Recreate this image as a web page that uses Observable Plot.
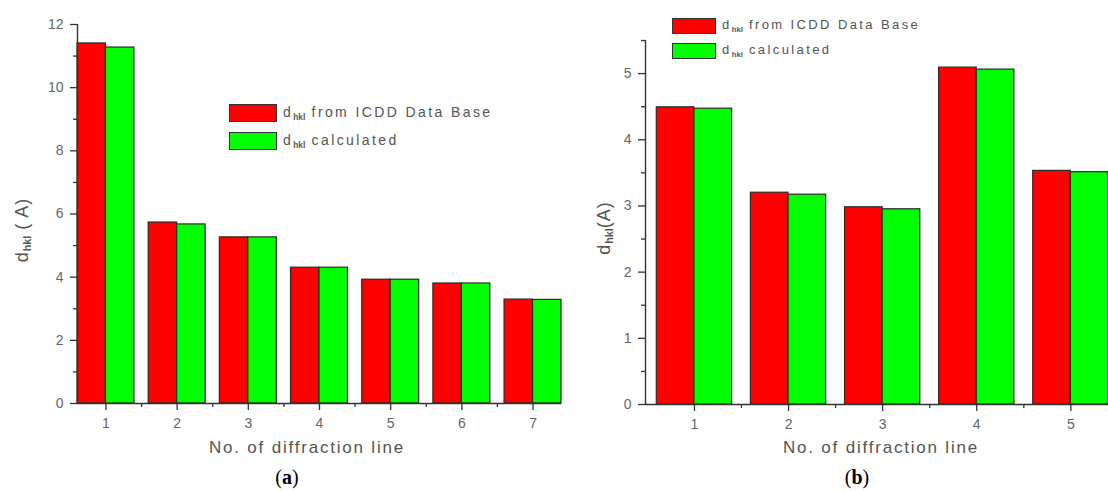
<!DOCTYPE html>
<html><head><meta charset="utf-8">
<script src="https://cdn.jsdelivr.net/npm/d3@7"></script>
<script src="https://cdn.jsdelivr.net/npm/@observablehq/plot@0.6"></script>
<style>
body{margin:0;background:#fff;font-family:"Liberation Sans",Arial,sans-serif;}
#root{position:relative;width:1108px;height:491px;overflow:hidden;background:#fff;}
#root svg{position:absolute;top:0;}
.t{position:absolute;color:#555;white-space:nowrap;line-height:1;}
.c{transform:translate(-50%,-50%);}
.ytitle{font-size:18px;letter-spacing:1px;transform:translate(-50%,-50%) rotate(-90deg);}
.xtitle{font-size:17px;letter-spacing:1.8px;}
.cap{font-family:"Liberation Serif","Times New Roman",serif;font-size:20px;color:#000;}
.sub{font-size:0.6em;vertical-align:-0.35em;letter-spacing:0;font-weight:bold;}
.box{position:absolute;border:1.5px solid #333;box-sizing:border-box;}
.leg{letter-spacing:2.4px;transform:translateY(-50%);}
</style></head>
<body><div id="root"></div>
<script>
// Panel (a)
const linesA = [1, 2, 3, 4, 5, 6, 7];
const icddA  = [11.40, 5.73, 5.26, 4.30, 3.92, 3.80, 3.29];
const calcA  = [11.27, 5.67, 5.26, 4.30, 3.92, 3.80, 3.28];
const yTicksA = [0, 2, 4, 6, 8, 10, 12];
const yMinorA = [1, 3, 5, 7, 9, 11];
const xMinorA = [1.5, 2.5, 3.5, 4.5, 5.5, 6.5];

// Panel (b)
const linesB = [1, 2, 3, 4, 5];
const icddB  = [4.49, 3.20, 2.98, 5.09, 3.53];
const calcB  = [4.47, 3.17, 2.95, 5.06, 3.51];
const yTicksB = [0, 1, 2, 3, 4, 5];
const yMinorB = [0.5, 1.5, 2.5, 3.5, 4.5, 5.5];
const xMinorB = [1.5, 2.5, 3.5, 4.5];

const legendLabels = ["from ICDD Data Base", "calculated"];
const colors = ["#ff0000", "#00ff00"];

function panel(o) {
  const rows = o.lines.map((n, i) => ({n, icdd: o.icdd[i], calc: o.calc[i]}));
  const svg = Plot.plot({
    width: o.width, height: 491,
    marginLeft: o.marginLeft, marginRight: o.marginRight,
    marginTop: o.marginTop, marginBottom: o.marginBottom,
    x: {type: "linear", domain: o.xDomain},
    y: {domain: o.yDomain},
    style: {fontFamily: "Liberation Sans, Arial, sans-serif", fontSize: "14px", background: "transparent", overflow: "visible"},
    marks: [
      Plot.rect(rows, {x1: d => d.n - 0.4, x2: d => d.n, y1: () => 0, y2: "icdd", fill: colors[0], stroke: "#2a2a2a", strokeWidth: 1.2}),
      Plot.rect(rows, {x1: d => d.n, x2: d => d.n + 0.4, y1: () => 0, y2: "calc", fill: colors[1], stroke: "#2a2a2a", strokeWidth: 1.2}),
      Plot.ruleX([o.xDomain[0]], {stroke: "#333", strokeWidth: 1.4}),
      Plot.ruleY([o.yDomain[0]], {stroke: "#333", strokeWidth: 1.4}),
      Plot.axisY({ticks: o.yTicks, tickSize: 7, tickPadding: 7, tickFormat: d => String(d), label: null, stroke: "#333", strokeWidth: 1.3, fill: "#666", fontSize: 14}),
      Plot.axisY({ticks: o.yMinor, tickSize: 4, tickFormat: () => "", label: null, stroke: "#333", strokeWidth: 1.3}),
      Plot.axisX({ticks: o.lines, tickSize: 7, tickPadding: 8, tickFormat: d => String(d), label: null, stroke: "#333", strokeWidth: 1.3, fill: "#666", fontSize: 14}),
      Plot.axisX({ticks: o.xMinor, tickSize: 4, tickFormat: () => "", label: null, stroke: "#333", strokeWidth: 1.3})
    ]
  });
  svg.style.left = o.left + "px";
  return svg;
}

const root = document.getElementById("root");
root.appendChild(panel({lines: linesA, icdd: icddA, calc: calcA, xDomain: [0.6, 7.4], yDomain: [0, 12],
  yTicks: yTicksA, yMinor: yMinorA, xMinor: xMinorA, width: 570, left: 0,
  marginLeft: 77, marginRight: 9, marginTop: 24, marginBottom: 88}));
root.appendChild(panel({lines: linesB, icdd: icddB, calc: calcB, xDomain: [0.48, 5.4], yDomain: [0, 5.5],
  yTicks: yTicksB, yMinor: yMinorB, xMinor: xMinorB, width: 548, left: 560,
  marginLeft: 85, marginRight: 0, marginTop: 40, marginBottom: 87}));

function addText(html, cls, x, y, style) {
  const d = document.createElement("div");
  d.className = "t " + cls;
  d.innerHTML = html;
  d.style.left = x + "px"; d.style.top = y + "px";
  if (style) Object.assign(d.style, style);
  root.appendChild(d);
}
function addBox(x, y, w, h, color) {
  const b = document.createElement("div");
  b.className = "box";
  Object.assign(b.style, {left: x + "px", top: y + "px", width: w + "px", height: h + "px", background: color});
  root.appendChild(b);
}
const dsub = 'd<span class="sub">hkl</span>';

// titles
addText(dsub + " ( A)", "ytitle", 23, 230);
addText(dsub + "(A)", "ytitle", 605, 228);
addText("No. of diffraction line", "xtitle c", 307, 447);
addText("No. of diffraction line", "xtitle c", 881, 447);
addText("(<b>a</b>)", "cap c", 287, 477);
addText("(<b>b</b>)", "cap c", 857, 477);

// legends
addBox(229, 104, 48, 18, colors[0]);
addBox(229, 132, 48, 18, colors[1]);
addText(dsub + " " + legendLabels[0], "leg", 283, 113, {fontSize: "14px"});
addText(dsub + " " + legendLabels[1], "leg", 283, 141, {fontSize: "14px"});
addBox(672, 18, 44, 16, colors[0]);
addBox(672, 43, 44, 16, colors[1]);
addText(dsub + " " + legendLabels[0], "leg", 722, 26, {fontSize: "13px"});
addText(dsub + " " + legendLabels[1], "leg", 722, 51, {fontSize: "13px"});
</script></body></html>
